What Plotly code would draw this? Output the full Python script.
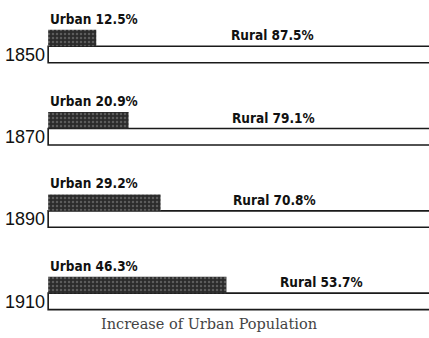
import plotly.graph_objects as go

# Share of population, urban vs rural, by census year
years = ["1850", "1870", "1890", "1910"]
urban = [12.5, 20.9, 29.2, 46.3]
rural = [87.5, 79.1, 70.8, 53.7]

# left edge (in percent units) where each rural caption starts
rural_label_x = [47.0, 47.3, 47.6, 59.7]

rows = list(range(len(years)))
bar_h = 0.2
total = [u + r for u, r in zip(urban, rural)]

fig = go.Figure()

# total population strip (open rectangle)
fig.add_trace(go.Bar(
    y=rows, x=total, base=0, orientation="h",
    width=bar_h, offset=-bar_h / 2,
    marker=dict(color="white", line=dict(color="#1a1a1a", width=1.6)),
    hoverinfo="skip", showlegend=False,
))

# urban share, stippled dark bar sitting on top of the strip
fig.add_trace(go.Bar(
    y=rows, x=urban, base=0, orientation="h",
    width=bar_h, offset=-1.5 * bar_h,
    marker=dict(
        color="#2b2b2b",
        line=dict(width=0),
        pattern=dict(shape=".", fgcolor="#8c8c8c", bgcolor="#2b2b2b",
                     size=4, solidity=0.3),
    ),
    hoverinfo="skip", showlegend=False,
))

label_font = dict(family="Liberation Sans Narrow, Arial Narrow, DejaVu Sans Condensed",
                  size=13.5, color="#111111", weight="bold")

annotations = []
for i, (u, r, rx) in enumerate(zip(urban, rural, rural_label_x)):
    annotations.append(dict(
        x=0, y=i - 1.5 * bar_h, xref="x", yref="y",
        text=f"Urban {u}%", showarrow=False,
        xanchor="left", yanchor="bottom", yshift=1, font=label_font,
    ))
    annotations.append(dict(
        x=rx, y=i - 0.5 * bar_h, xref="x", yref="y",
        text=f"Rural {r}%", showarrow=False,
        xanchor="left", yanchor="bottom", yshift=1, font=label_font,
    ))

fig.update_layout(
    width=429, height=338,
    margin=dict(l=47, r=0, t=0, b=0),
    paper_bgcolor="white", plot_bgcolor="white",
    barmode="overlay",
    annotations=annotations,
    title=dict(
        text="Increase of Urban Population",
        x=209 / 429, xref="container", xanchor="center",
        y=1 - 324 / 338, yref="container", yanchor="middle",
        font=dict(family="DejaVu Serif, Liberation Serif, serif",
                  size=14.5, color="#444444"),
    ),
    xaxis=dict(range=[-0.3, 98.9], showgrid=False, zeroline=False,
               showticklabels=False, ticks="", showline=False),
    yaxis=dict(range=[3.445, -0.662], showgrid=False, zeroline=False,
               tickvals=rows, ticktext=years, ticks="", showline=False,
               ticklabelstandoff=1,
               tickfont=dict(family="Liberation Sans, Arial, sans-serif",
                             size=18, color="#111111")),
)

fig.write_html("out.html")
